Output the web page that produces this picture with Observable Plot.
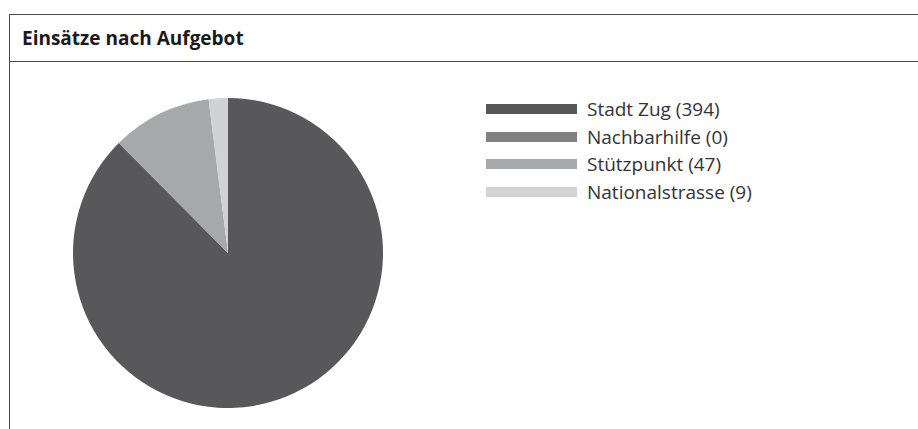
<!DOCTYPE html>
<html>
<head>
<meta charset="utf-8">
<script src="https://cdn.jsdelivr.net/npm/d3@7"></script>
<script src="https://cdn.jsdelivr.net/npm/@observablehq/plot@0.6"></script>
<style>
  html, body { margin: 0; padding: 0; background: #fff; }
  body { width: 918px; height: 429px; position: relative; overflow: hidden; font-family: "Open Sans", sans-serif; }
  #frame { position: absolute; left: 9px; top: 14px; width: 909px; height: 415px;
           border-left: 1px solid #4a4a4a; border-top: 1px solid #4a4a4a; }
  #title { position: absolute; left: 0; top: 0; width: 909px; height: 47px; border-bottom: 1px solid #4a4a4a;
           box-sizing: border-box; }
  #title span { position: absolute; left: 12px; top: 14px; font-weight: bold; font-size: 19px; color: #1a1a1a; line-height: 1; white-space: nowrap; }
  #pie { position: absolute; left: 0; top: 63px; }
  #legend { position: absolute; left: 486px; top: 95px; }
  .lg-swatches { font-family: "Open Sans", sans-serif !important; font-size: 19px !important; color: #333 !important; margin: 0 !important; }
  .lg-swatch { height: 27.7px !important; padding: 0 !important; margin: 0 !important; }
  .lg-swatch > svg { margin-right: 10px !important; }
</style>
</head>
<body>
<div id="frame"><div id="title"><span>Einsätze nach Aufgebot</span></div></div>
<div id="pie"></div>
<div id="legend"></div>
<script>
const categories = ["Stadt Zug", "Nachbarhilfe", "Stützpunkt", "Nationalstrasse"];
const values = [394, 0, 47, 9];
const colors = ["#58585a", "#808082", "#a7a8aa", "#d1d2d4"];

const data = categories.map((name, i) => ({name, value: values[i]}));

const pieMark = (index, scales, vals, dims) => {
  const cx = dims.marginLeft + (dims.width - dims.marginLeft - dims.marginRight) / 2;
  const cy = dims.marginTop + (dims.height - dims.marginTop - dims.marginBottom) / 2;
  const r = Math.min(dims.width - dims.marginLeft - dims.marginRight, dims.height - dims.marginTop - dims.marginBottom) / 2;
  const arcs = d3.pie().sort(null).value(d => d.value)(data);
  const arc = d3.arc().innerRadius(0).outerRadius(r);
  const g = d3.create("svg:g").attr("transform", `translate(${cx},${cy})`);
  g.selectAll("path").data(arcs).join("path")
    .attr("d", arc)
    .attr("fill", d => scales.color(d.data.name));
  return g.node();
};

const plot = Plot.plot({
  width: 456,
  height: 366,
  marginTop: 35,
  marginBottom: 21,
  marginLeft: 0,
  marginRight: 0,
  x: {axis: null},
  y: {axis: null},
  color: {type: "ordinal", domain: categories, range: colors},
  marks: [
    Plot.dot(data, {fill: "name", r: 0}),
    pieMark
  ]
});
document.getElementById("pie").appendChild(plot);

const legend = Plot.legend({
  color: {type: "ordinal", domain: categories, range: colors},
  legend: "swatches",
  columns: 1,
  className: "lg",
  swatchWidth: 91,
  swatchHeight: 10,
  tickFormat: d => `${d} (${values[categories.indexOf(d)]})`
});
document.getElementById("legend").appendChild(legend);
</script>
</body>
</html>
